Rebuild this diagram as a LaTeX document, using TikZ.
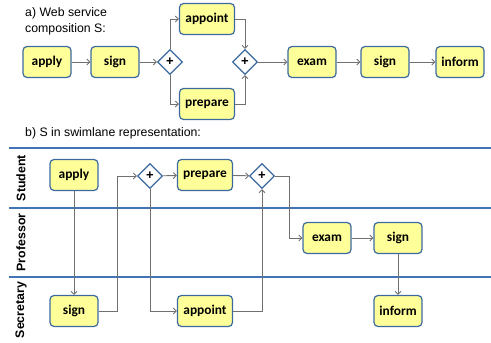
\documentclass[tikz,border=0pt]{standalone}
\usepackage{fontspec}
\setmainfont{Liberation Sans}
\newfontfamily\boxfont{Carlito}
\usetikzlibrary{shapes.geometric,arrows.meta}
\definecolor{boxblue}{HTML}{3C6A9E}
\definecolor{boxfill}{HTML}{FFFF99}
\definecolor{lane}{HTML}{4375B6}
\definecolor{conngray}{HTML}{707070}
\tikzset{
  task/.style={draw=boxblue, fill=boxfill, rounded corners=4pt, line width=1.2pt,
    minimum width=48pt, minimum height=31pt, inner sep=0pt,
    font=\boxfont\bfseries\fontsize{13.4}{15}\selectfont},
  widetask/.style={task, minimum width=55pt},
  gate/.style={diamond, draw=boxblue, fill=white, line width=1.2pt, aspect=1,
    minimum size=25pt, inner sep=0pt, font=\bfseries\fontsize{13}{13}\selectfont},
  conn/.style={draw=conngray, line width=0.9pt, -{Straight Barb[length=3pt,width=6pt]}},
  lanesep/.style={draw=lane, line width=2pt},
  lanelabel/.style={rotate=90, font=\bfseries\fontsize{12.4}{14}\selectfont, inner sep=0pt},
  title/.style={font=\fontsize{12.3}{16}\selectfont, inner sep=0pt, align=left}
}
\begin{document}
\begin{tikzpicture}[x=1pt,y=-1pt]
\useasboundingbox (0,0) rectangle (491,343);
% ---------- a) ----------
\node[title, anchor=north west] (ta) at (25,7) {a) Web service\\composition S:};
\node[task] (apply) at (47,62) {apply};
\node[task] (sign) at (115,62) {sign};
\node[gate] (g1) at (170,62) {+};
\node[widetask] (appoint) at (207,19) {appoint};
\node[widetask] (prepare) at (207,104) {prepare};
\node[gate] (g2) at (245,62) {+};
\node[task] (exam) at (312,62) {exam};
\node[task] (sign2) at (385,62) {sign};
\node[task] (inform) at (460,62) {inform};
\draw[conn] (apply) -- (sign);
\draw[conn] (sign) -- (g1);
\draw[conn] (g1.north) |- (appoint.west);
\draw[conn] (g1.south) |- (prepare.west);
\draw[conn] (appoint.east) -| (g2.north);
\draw[conn] (prepare.east) -| (g2.south);
\draw[conn] (g2) -- (exam);
\draw[conn] (exam) -- (sign2);
\draw[conn] (sign2) -- (inform);
% ---------- b) ----------
\node[title, anchor=base west] (tb) at (25,136.5) {b) S in swimlane representation:};
\coordinate (l1a) at (9,148); \coordinate (l1b) at (491,148);
\coordinate (l2a) at (9,208); \coordinate (l2b) at (491,208);
\coordinate (l3a) at (9,277); \coordinate (l3b) at (491,277);
\draw[lanesep] (l1a) -- (l1b);
\draw[lanesep] (l2a) -- (l2b);
\draw[lanesep] (l3a) -- (l3b);
\node[lanelabel] (stu) at (21,178) {Student};
\node[lanelabel] (prof) at (21,242.5) {Professor};
\node[lanelabel] (sec) at (21,310) {Secretary};

\node[task] (bapply) at (74,175) {apply};
\node[gate] (bg1) at (150,176) {+};
\node[widetask] (bprepare) at (205,175) {prepare};
\node[gate] (bg2) at (262,176) {+};
\node[task] (bexam) at (327,238) {exam};
\node[task] (bsign2) at (398,238) {sign};
\node[task] (binform) at (398,311) {inform};
\node[task] (bsign) at (74,311) {sign};
\node[widetask] (bappoint) at (205,311) {appoint};
\coordinate (k1) at (117,176);
\coordinate (k2) at (289,238);

\draw[conn] (bapply) -- (bsign);
\draw[conn] (bsign.east) -| (k1) -- (bg1.west);
\draw[conn] (bg1) -- (bprepare);
\draw[conn] (bg1.south) |- (bappoint.west);
\draw[conn] (bprepare) -- (bg2);
\draw[conn] (bappoint.east) -| (bg2.south);
\draw[conn] (bg2.east) -| (k2) -- (bexam.west);
\draw[conn] (bexam) -- (bsign2);
\draw[conn] (bsign2) -- (binform);
\end{tikzpicture}
\end{document}
